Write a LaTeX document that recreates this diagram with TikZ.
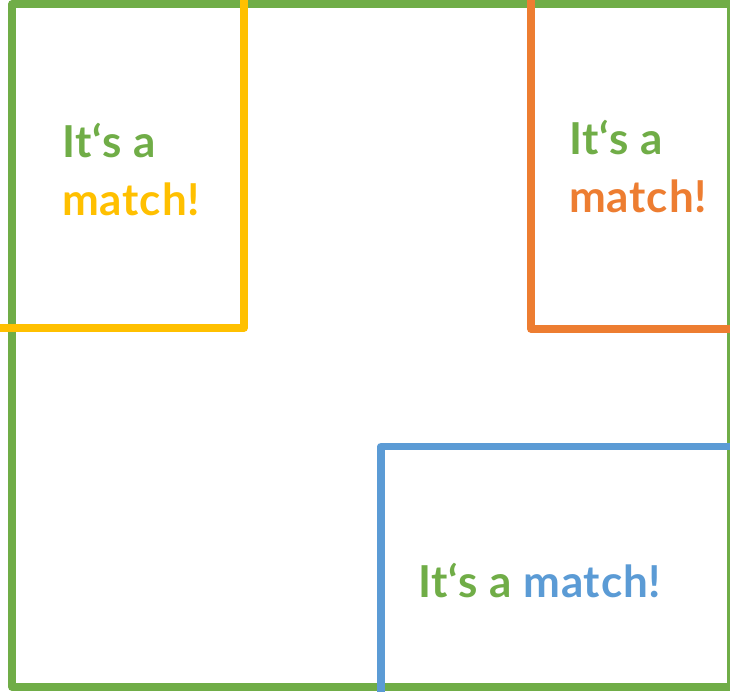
\documentclass[tikz,border=0pt]{standalone}
\usepackage{fontspec}
\newfontfamily\latofont{Lato}[LetterSpace=2]
\definecolor{mgreen}{HTML}{70AD47}
\definecolor{myellow}{HTML}{FFC000}
\definecolor{morange}{HTML}{ED7D31}
\definecolor{mblue}{HTML}{5B9BD5}
\tikzset{
  frame/.style={line width=7.5pt, line join=round, line cap=butt},
  matchtext/.style={inner sep=0pt, anchor=base west, font=\latofont\bfseries\fontsize{44}{50}\selectfont}
}
\begin{document}
\begin{tikzpicture}[x=1pt,y=-1pt]
\useasboundingbox (0,0) rectangle (730,691);
\clip (0,0) rectangle (730,691);
\draw[frame, mgreen] (12,4) rectangle (731,687);
\draw[frame, myellow] (-10,328) -- (244,328) -- (244,-10);
\draw[frame, morange] (740,329) -- (531,329) -- (531,-10);
\draw[frame, mblue] (381,700) -- (381,446.5) -- (740,446.5);
\node[matchtext, text=mgreen] (y1) at (62,157) {It‘s a};
\node[matchtext, text=myellow] (y2) at (62,215) {match!};
\node[matchtext, text=mgreen] (o1) at (569,154) {It‘s a};
\node[matchtext, text=morange] (o2) at (569,212) {match!};
\node[matchtext] (b1) at (418,597) {\textcolor{mgreen}{It‘s a} \textcolor{mblue}{match!}};
\end{tikzpicture}
\end{document}
